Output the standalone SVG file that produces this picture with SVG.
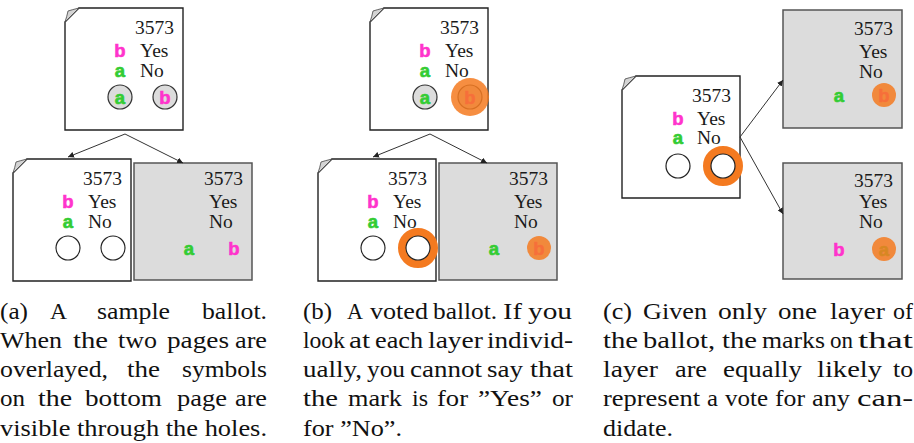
<svg xmlns="http://www.w3.org/2000/svg" width="914" height="443" viewBox="0 0 914 443">
<defs>
<style>
.page{fill:#fff;stroke:#222;stroke-width:1.4}
.curl{fill:#d4d4d4;stroke:#444;stroke-width:0.8}
.layer{fill:#dcdcdc;stroke:#555;stroke-width:1.5}
.t{font-family:"Liberation Serif","Times New Roman",serif;font-size:19.5px;fill:#1a1a1a}
.sym{font-family:"Liberation Sans",Arial,sans-serif;font-weight:bold;font-size:18.5px;text-anchor:middle;stroke-width:0.6}
.b{fill:#ff33cc;stroke:#ff33cc}
.a{fill:#33cc33;stroke:#33cc33}
.hole{fill:#fff;stroke:#222;stroke-width:1.2}
.holeg{fill:#dcdcdc;stroke:#333;stroke-width:1.2}
.mark{fill:#f47a20;opacity:0.85}
.ring{fill:none;stroke:#f47a20;stroke-width:8}
.conn line{stroke:#333;stroke-width:1;marker-end:url(#ah)}
.cap{font-family:"Liberation Serif","Times New Roman",serif;font-size:24px;fill:#111}
</style>
<marker id="ah" viewBox="0 0 10 10" refX="10" refY="5" markerWidth="6" markerHeight="6" markerUnits="userSpaceOnUse" orient="auto">
<path d="M0,0L10,5L0,10Z" fill="#222"/>
</marker>
</defs>

<!-- Panel (a) -->
<g id="a-top" transform="translate(65,8)">
<path class="page" d="M14,0H118V122H0V14Z"/>
<path class="curl" d="M0,14L14,0Q6,2 3,3Q2,8 0,14Z"/>
<text class="t" x="70" y="25.5">3573</text>
<text class="sym b" x="55" y="49">b</text><text class="t" x="75" y="49">Yes</text>
<text class="sym a" x="55" y="69">a</text><text class="t" x="75" y="69">No</text>
<circle class="holeg" cx="55" cy="89" r="12"/><text class="sym a" x="55" y="95.5">a</text>
<circle class="holeg" cx="100" cy="89" r="12"/><text class="sym b" x="100" y="95.5">b</text>
</g>
<g id="a-front" transform="translate(13,159)">
<path class="page" d="M14,0H118V122H0V14Z"/>
<path class="curl" d="M0,14L14,0Q6,2 3,3Q2,8 0,14Z"/>
<text class="t" x="70" y="25.5">3573</text>
<text class="sym b" x="55" y="49">b</text><text class="t" x="75" y="49">Yes</text>
<text class="sym a" x="55" y="69">a</text><text class="t" x="75" y="69">No</text>
<circle class="hole" cx="55" cy="89" r="12"/>
<circle class="hole" cx="100" cy="89" r="12"/>
</g>
<g id="a-back" transform="translate(134,163)">
<rect class="layer" x="0" y="0" width="118" height="117"/>
<text class="t" x="70" y="22">3573</text>
<text class="t" x="75" y="45">Yes</text>
<text class="t" x="75" y="65">No</text>
<text class="sym a" x="55" y="91.5">a</text>
<text class="sym b" x="100" y="91.5">b</text>
</g>

<!-- Panel (b) -->
<g id="b-top" transform="translate(370,8)">
<path class="page" d="M14,0H118V122H0V14Z"/>
<path class="curl" d="M0,14L14,0Q6,2 3,3Q2,8 0,14Z"/>
<text class="t" x="70" y="25.5">3573</text>
<text class="sym b" x="55" y="49">b</text><text class="t" x="75" y="49">Yes</text>
<text class="sym a" x="55" y="69">a</text><text class="t" x="75" y="69">No</text>
<circle class="holeg" cx="55" cy="89" r="12"/><text class="sym a" x="55" y="95.5">a</text>
<circle class="holeg" cx="100" cy="89" r="12"/><text class="sym b" x="100" y="95.5">b</text>
<circle class="mark" cx="100" cy="89" r="19"/>
</g>
<g id="b-front" transform="translate(318,159)">
<path class="page" d="M14,0H118V122H0V14Z"/>
<path class="curl" d="M0,14L14,0Q6,2 3,3Q2,8 0,14Z"/>
<text class="t" x="70" y="25.5">3573</text>
<text class="sym b" x="55" y="49">b</text><text class="t" x="75" y="49">Yes</text>
<text class="sym a" x="55" y="69">a</text><text class="t" x="75" y="69">No</text>
<circle class="hole" cx="55" cy="89" r="12"/>
<circle class="ring" cx="100" cy="89" r="16"/>
<circle class="hole" cx="100" cy="89" r="12"/>
</g>
<g id="b-back" transform="translate(439,163)">
<rect class="layer" x="0" y="0" width="118" height="117"/>
<text class="t" x="70" y="22">3573</text>
<text class="t" x="75" y="45">Yes</text>
<text class="t" x="75" y="65">No</text>
<text class="sym a" x="55" y="91.5">a</text>
<text class="sym b" x="100" y="91.5">b</text>
<circle class="mark" cx="100" cy="85" r="12"/>
</g>

<!-- Panel (c) -->
<g id="c-ballot" transform="translate(622,76)">
<path class="page" d="M14,0H118V122H0V14Z"/>
<path class="curl" d="M0,14L14,0Q6,2 3,3Q2,8 0,14Z"/>
<text class="t" x="70" y="25.5">3573</text>
<text class="sym b" x="56" y="49">b</text><text class="t" x="75" y="49">Yes</text>
<text class="sym a" x="56" y="68">a</text><text class="t" x="75" y="68">No</text>
<circle class="hole" cx="56" cy="90" r="12"/>
<circle class="ring" cx="101" cy="90" r="16"/>
<circle class="hole" cx="101" cy="90" r="12"/>
</g>
<g id="c-layer1" transform="translate(783,10)">
<rect class="layer" x="0" y="0" width="119" height="118"/>
<text class="t" x="71" y="24.5">3573</text>
<text class="t" x="76" y="47.5">Yes</text>
<text class="t" x="76" y="67.5">No</text>
<text class="sym a" x="56" y="91.5">a</text>
<text class="sym b" x="101" y="91.5">b</text>
<circle class="mark" cx="101" cy="85" r="12"/>
</g>
<g id="c-layer2" transform="translate(783,163)">
<rect class="layer" x="0" y="0" width="119" height="116"/>
<text class="t" x="71" y="24">3573</text>
<text class="t" x="76" y="45">Yes</text>
<text class="t" x="76" y="65">No</text>
<text class="sym b" x="56" y="92.5">b</text>
<text class="sym a" x="101" y="92.5">a</text>
<circle class="mark" cx="101" cy="86" r="12"/>
</g>

<g id="connectors" class="conn">
<line x1="125" y1="134" x2="68" y2="157"/>
<line x1="125" y1="134" x2="183" y2="163"/>
<line x1="430" y1="134" x2="373" y2="157"/>
<line x1="430" y1="134" x2="487" y2="163"/>
<line x1="740" y1="137" x2="783" y2="80"/>
<line x1="740" y1="137" x2="783" y2="214"/>
</g>

<!-- Captions -->
<g id="caption-a" class="cap">
<text y="318.5"><tspan x="0" textLength="28" lengthAdjust="spacingAndGlyphs">(a)</tspan><tspan x="50" textLength="17" lengthAdjust="spacingAndGlyphs">A</tspan><tspan x="97" textLength="73" lengthAdjust="spacingAndGlyphs">sample</tspan><tspan x="202" textLength="65" lengthAdjust="spacingAndGlyphs">ballot.</tspan></text>
<text y="347.8"><tspan x="0" textLength="62" lengthAdjust="spacingAndGlyphs">When</tspan><tspan x="73" textLength="35" lengthAdjust="spacingAndGlyphs">the</tspan><tspan x="118" textLength="39" lengthAdjust="spacingAndGlyphs">two</tspan><tspan x="167" textLength="62" lengthAdjust="spacingAndGlyphs">pages</tspan><tspan x="235" textLength="32" lengthAdjust="spacingAndGlyphs">are</tspan></text>
<text y="377"><tspan x="0" textLength="108" lengthAdjust="spacingAndGlyphs">overlayed,</tspan><tspan x="127" textLength="33" lengthAdjust="spacingAndGlyphs">the</tspan><tspan x="182" textLength="85" lengthAdjust="spacingAndGlyphs">symbols</tspan></text>
<text y="406.3"><tspan x="0" textLength="25" lengthAdjust="spacingAndGlyphs">on</tspan><tspan x="38" textLength="34" lengthAdjust="spacingAndGlyphs">the</tspan><tspan x="85" textLength="77" lengthAdjust="spacingAndGlyphs">bottom</tspan><tspan x="177" textLength="50" lengthAdjust="spacingAndGlyphs">page</tspan><tspan x="235" textLength="32" lengthAdjust="spacingAndGlyphs">are</tspan></text>
<text x="0" y="435.6" textLength="267" lengthAdjust="spacingAndGlyphs">visible through the holes.</text>
</g>
<g id="caption-b" class="cap">
<text y="318.5"><tspan x="303" textLength="29" lengthAdjust="spacingAndGlyphs">(b)</tspan><tspan x="347" textLength="16" lengthAdjust="spacingAndGlyphs">A</tspan><tspan x="370" textLength="58" lengthAdjust="spacingAndGlyphs">voted</tspan><tspan x="433" textLength="64" lengthAdjust="spacingAndGlyphs">ballot.</tspan><tspan x="503" textLength="19" lengthAdjust="spacingAndGlyphs">If</tspan><tspan x="528" textLength="44" lengthAdjust="spacingAndGlyphs">you</tspan></text>
<text y="347.8"><tspan x="303" textLength="42" lengthAdjust="spacingAndGlyphs">look</tspan><tspan x="349" textLength="21" lengthAdjust="spacingAndGlyphs">at</tspan><tspan x="375" textLength="48" lengthAdjust="spacingAndGlyphs">each</tspan><tspan x="428" textLength="55" lengthAdjust="spacingAndGlyphs">layer</tspan><tspan x="487" textLength="86" lengthAdjust="spacingAndGlyphs">individ-</tspan></text>
<text y="377"><tspan x="303" textLength="59" lengthAdjust="spacingAndGlyphs">ually,</tspan><tspan x="367" textLength="38" lengthAdjust="spacingAndGlyphs">you</tspan><tspan x="410" textLength="72" lengthAdjust="spacingAndGlyphs">cannot</tspan><tspan x="487" textLength="36" lengthAdjust="spacingAndGlyphs">say</tspan><tspan x="530" textLength="43" lengthAdjust="spacingAndGlyphs">that</tspan></text>
<text y="406.3"><tspan x="303" textLength="35" lengthAdjust="spacingAndGlyphs">the</tspan><tspan x="348" textLength="54" lengthAdjust="spacingAndGlyphs">mark</tspan><tspan x="412" textLength="16" lengthAdjust="spacingAndGlyphs">is</tspan><tspan x="437" textLength="31" lengthAdjust="spacingAndGlyphs">for</tspan><tspan x="478" textLength="64" lengthAdjust="spacingAndGlyphs">”Yes”</tspan><tspan x="552" textLength="21" lengthAdjust="spacingAndGlyphs">or</tspan></text>
<text x="303" y="435.6" textLength="99" lengthAdjust="spacingAndGlyphs">for ”No”.</text>
</g>
<g id="caption-c" class="cap">
<text y="318.5"><tspan x="603" textLength="29" lengthAdjust="spacingAndGlyphs">(c)</tspan><tspan x="643" textLength="64" lengthAdjust="spacingAndGlyphs">Given</tspan><tspan x="718" textLength="49" lengthAdjust="spacingAndGlyphs">only</tspan><tspan x="778" textLength="39" lengthAdjust="spacingAndGlyphs">one</tspan><tspan x="830" textLength="55" lengthAdjust="spacingAndGlyphs">layer</tspan><tspan x="893" textLength="20" lengthAdjust="spacingAndGlyphs">of</tspan></text>
<text y="347.8"><tspan x="603" textLength="35" lengthAdjust="spacingAndGlyphs">the</tspan><tspan x="643" textLength="72" lengthAdjust="spacingAndGlyphs">ballot,</tspan><tspan x="722" textLength="35" lengthAdjust="spacingAndGlyphs">the</tspan><tspan x="762" textLength="63" lengthAdjust="spacingAndGlyphs">marks</tspan><tspan x="830" textLength="23" lengthAdjust="spacingAndGlyphs">on</tspan><tspan x="858" textLength="55" lengthAdjust="spacingAndGlyphs">that</tspan></text>
<text y="377"><tspan x="603" textLength="55" lengthAdjust="spacingAndGlyphs">layer</tspan><tspan x="675" textLength="32" lengthAdjust="spacingAndGlyphs">are</tspan><tspan x="723" textLength="79" lengthAdjust="spacingAndGlyphs">equally</tspan><tspan x="817" textLength="65" lengthAdjust="spacingAndGlyphs">likely</tspan><tspan x="893" textLength="20" lengthAdjust="spacingAndGlyphs">to</tspan></text>
<text y="406.3"><tspan x="603" textLength="97" lengthAdjust="spacingAndGlyphs">represent</tspan><tspan x="707" textLength="11" lengthAdjust="spacingAndGlyphs">a</tspan><tspan x="725" textLength="43" lengthAdjust="spacingAndGlyphs">vote</tspan><tspan x="775" textLength="30" lengthAdjust="spacingAndGlyphs">for</tspan><tspan x="812" textLength="38" lengthAdjust="spacingAndGlyphs">any</tspan><tspan x="857" textLength="56" lengthAdjust="spacingAndGlyphs">can-</tspan></text>
<text x="603" y="435.6" textLength="70" lengthAdjust="spacingAndGlyphs">didate.</text>
</g>
</svg>
